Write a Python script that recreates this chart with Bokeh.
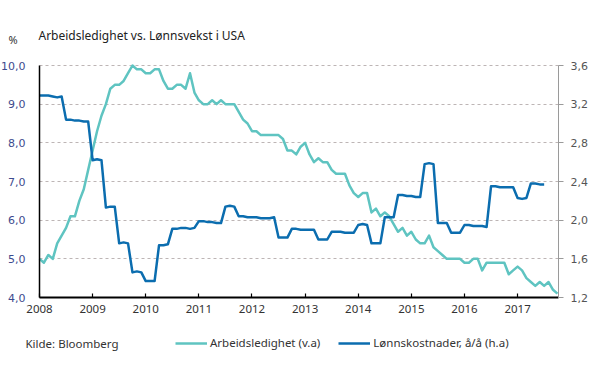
from bokeh.plotting import figure
from bokeh.models import (Range1d, LinearAxis, FixedTicker, CustomJSTickFormatter,
                          Label, Legend, LegendItem, Grid)
from bokeh.embed import file_html
from bokeh.resources import INLINE

# ---------------- data ----------------
start_year = 2008
unemployment = [
    5.0, 4.9, 5.1, 5.0, 5.4, 5.6, 5.8, 6.1, 6.1, 6.5, 6.8, 7.3,   # 2008
    7.8, 8.3, 8.7, 9.0, 9.4, 9.5, 9.5, 9.6, 9.8, 10.0, 9.9, 9.9,  # 2009
    9.8, 9.8, 9.9, 9.9, 9.6, 9.4, 9.4, 9.5, 9.5, 9.4, 9.8, 9.3,   # 2010
    9.1, 9.0, 9.0, 9.1, 9.0, 9.1, 9.0, 9.0, 9.0, 8.8, 8.6, 8.5,   # 2011
    8.3, 8.3, 8.2, 8.2, 8.2, 8.2, 8.2, 8.1, 7.8, 7.8, 7.7, 7.9,   # 2012
    8.0, 7.7, 7.5, 7.6, 7.5, 7.5, 7.3, 7.2, 7.2, 7.2, 6.9, 6.7,   # 2013
    6.6, 6.7, 6.7, 6.2, 6.3, 6.1, 6.2, 6.1, 5.9, 5.7, 5.8, 5.6,   # 2014
    5.7, 5.5, 5.4, 5.4, 5.6, 5.3, 5.2, 5.1, 5.0, 5.0, 5.0, 5.0,   # 2015
    4.9, 4.9, 5.0, 5.0, 4.7, 4.9, 4.9, 4.9, 4.9, 4.9, 4.6, 4.7,   # 2016
    4.8, 4.7, 4.5, 4.4, 4.3, 4.4, 4.3, 4.4, 4.2, 4.1,             # 2017
]
wages = [
    3.29, 3.29, 3.29, 3.28, 3.27, 3.28,
    3.04, 3.04, 3.03, 3.03, 3.02, 3.02,
    2.62, 2.63, 2.62,
    2.13, 2.14, 2.14,
    1.76, 1.77, 1.76,
    1.46, 1.47, 1.46,
    1.37, 1.37, 1.37,
    1.74, 1.74, 1.75,
    1.91, 1.91, 1.92, 1.92, 1.91, 1.92,
    1.99, 1.99, 1.98, 1.98, 1.97, 1.97,
    2.14, 2.15, 2.14,
    2.04, 2.04, 2.03, 2.03, 2.03, 2.02, 2.02, 2.02, 2.03,
    1.82, 1.82, 1.82,
    1.91, 1.91, 1.90, 1.90, 1.90, 1.90,
    1.80, 1.80, 1.80,
    1.88, 1.88, 1.88, 1.87, 1.87, 1.87,
    1.95, 1.96, 1.95,
    1.76, 1.76, 1.76,
    2.03, 2.03, 2.03,
    2.26, 2.26, 2.25, 2.25, 2.24, 2.24,
    2.58, 2.59, 2.58,
    1.97, 1.97, 1.97,
    1.87, 1.87, 1.87,
    1.95, 1.95, 1.94, 1.94, 1.94, 1.93,
    2.35, 2.35, 2.34, 2.34, 2.34, 2.34,
    2.23, 2.22, 2.23,
    2.38, 2.38, 2.37, 2.37,
]
year_ticks = [2008, 2009, 2010, 2011, 2012, 2013, 2014, 2015, 2016, 2017]
x_bounds = (2008.0, 2017.77)
left_ticks = [4, 5, 6, 7, 8, 9, 10]
left_labels = ["4,0", "5,0", "6,0", "7,0", "8,0", "9,0", "10,0"]
right_ticks = [1.2, 1.6, 2.0, 2.4, 2.8, 3.2, 3.6]
right_labels = ["1,2", "1,6", "2,0", "2,4", "2,8", "3,2", "3,6"]

title_text = "Arbeidsledighet vs. Lønnsvekst i USA"
unit_text = "%"
source_text = "Kilde: Bloomberg"
name_unemp = "Arbeidsledighet (v.a)"
name_wage = "Lønnskostnader, å/å (h.a)"

x_unemp = [start_year + i / 12 for i in range(len(unemployment))]
x_wage = [start_year + i / 12 for i in range(len(wages))]

TEAL = "#5fc4c1"
BLUE = "#0b6daf"
FONT = "Noto Sans"

# ---------------- layout: frame covers whole canvas ----------------
W, H = 590, 367
FL, FR, FT, FB = 39.0, 558.0, 65.0, 297.0          # plot area in pixels
pxx = (FR - FL) / (x_bounds[1] - x_bounds[0])
x0 = x_bounds[0] - FL / pxx
x1 = x_bounds[1] + (W - FR) / pxx
pyl = (FB - FT) / (left_ticks[-1] - left_ticks[0])
yl0 = left_ticks[0] - (H - FB) / pyl
yl1 = left_ticks[-1] + FT / pyl
pyr = (FB - FT) / (right_ticks[-1] - right_ticks[0])
yr0 = right_ticks[0] - (H - FB) / pyr
yr1 = right_ticks[-1] + FT / pyr

p = figure(width=W, height=H, output_backend="svg", toolbar_location=None,
           x_range=Range1d(x0, x1), y_range=Range1d(yl0, yl1),
           min_border=0, x_axis_location=None, y_axis_location=None)
p.outline_line_color = None
p.background_fill_color = "white"
p.border_fill_color = "white"
p.extra_y_ranges = {"wage": Range1d(yr0, yr1)}
p.grid.visible = False

fmt_code = """
let best = 0; let d = 1e9;
for (let i = 0; i < tvals.length; i++) {
  const dd = Math.abs(tvals[i] - tick);
  if (dd < d) { d = dd; best = i; }
}
return tlabels[best];
"""

# grid
gkw = dict(dimension=1, ticker=FixedTicker(ticks=left_ticks[1:]),
           grid_line_color="#bdb5b5", grid_line_dash="3 3", grid_line_width=1)
if "cross_bounds" in Grid.properties():
    p.add_layout(Grid(cross_bounds=x_bounds, **gkw))
else:
    p.segment(x0=[x_bounds[0]] * 6, x1=[x_bounds[1]] * 6, y0=left_ticks[1:], y1=left_ticks[1:],
              line_color="#bdb5b5", line_dash="3 3", line_width=1)

# bottom axis
xa = LinearAxis(fixed_location=left_ticks[0], bounds=x_bounds,
                ticker=FixedTicker(ticks=year_ticks))
xa.axis_line_color = "black"
xa.axis_line_width = 2
xa.major_tick_in = 4
xa.major_tick_out = 0
xa.major_tick_line_color = "black"
xa.major_tick_line_width = 1.2
xa.minor_tick_line_color = None
xa.major_label_text_font = FONT
xa.major_label_text_font_size = "11.5px"
xa.major_label_text_color = "#333333"
xa.major_label_standoff = 7
p.add_layout(xa, "below")

# left axis
ya = LinearAxis(fixed_location=x_bounds[0], bounds=(left_ticks[0], left_ticks[-1]),
                ticker=FixedTicker(ticks=left_ticks),
                formatter=CustomJSTickFormatter(args=dict(tvals=left_ticks, tlabels=left_labels), code=fmt_code))
ya.axis_line_color = "black"
ya.axis_line_width = 1.5
ya.major_tick_line_color = None
ya.minor_tick_line_color = None
ya.major_label_text_font = "DejaVu Sans"
ya.major_label_text_font_size = "11px"
ya.major_label_text_color = "#3d4b8e"
ya.major_label_standoff = 8
p.add_layout(ya, "left")

# right axis
ra = LinearAxis(y_range_name="wage", fixed_location=x_bounds[1],
                bounds=(right_ticks[0], right_ticks[-1]),
                ticker=FixedTicker(ticks=right_ticks),
                formatter=CustomJSTickFormatter(args=dict(tvals=right_ticks, tlabels=right_labels), code=fmt_code))
ra.axis_line_color = "#9a9a9a"
ra.axis_line_width = 1
ra.major_tick_line_color = "#9a9a9a"
ra.major_tick_in = 0
ra.major_tick_out = 5
ra.minor_tick_line_color = None
ra.major_label_text_font = "DejaVu Sans"
ra.major_label_text_font_size = "11px"
ra.major_label_text_color = "#555555"
ra.major_label_standoff = 7
p.add_layout(ra, "right")

r1 = p.line(x_unemp, unemployment, line_color=TEAL, line_width=2.5, line_join="round")
r2 = p.line(x_wage, wages, line_color=BLUE, line_width=2.5, line_join="round",
            y_range_name="wage")

legend = Legend(items=[LegendItem(label=name_unemp, renderers=[r1]),
                       LegendItem(label=name_wage, renderers=[r2])],
                orientation="horizontal", location=(175, H - 350),
                padding=0, margin=0, spacing=18, label_standoff=3,
                glyph_width=32, glyph_height=14, label_height=14,
                border_line_color=None, background_fill_alpha=0,
                label_text_font=FONT, label_text_font_size="11.5px",
                label_text_color="#333333")
p.add_layout(legend, "center")

p.add_layout(Label(x=38, y=H - 35, x_units="screen", y_units="screen", text=title_text,
                   text_font=FONT, text_font_size="12px", text_color="#222222",
                   text_baseline="middle"))
p.add_layout(Label(x=8, y=H - 39, x_units="screen", y_units="screen", text=unit_text,
                   text_font=FONT, text_font_size="11px", text_color="#333333",
                   text_baseline="middle"))
p.add_layout(Label(x=25, y=H - 343, x_units="screen", y_units="screen", text=source_text,
                   text_font=FONT, text_font_size="11.5px", text_color="#333333",
                   text_baseline="middle"))

open("out.html", "w").write(file_html(p, INLINE))
